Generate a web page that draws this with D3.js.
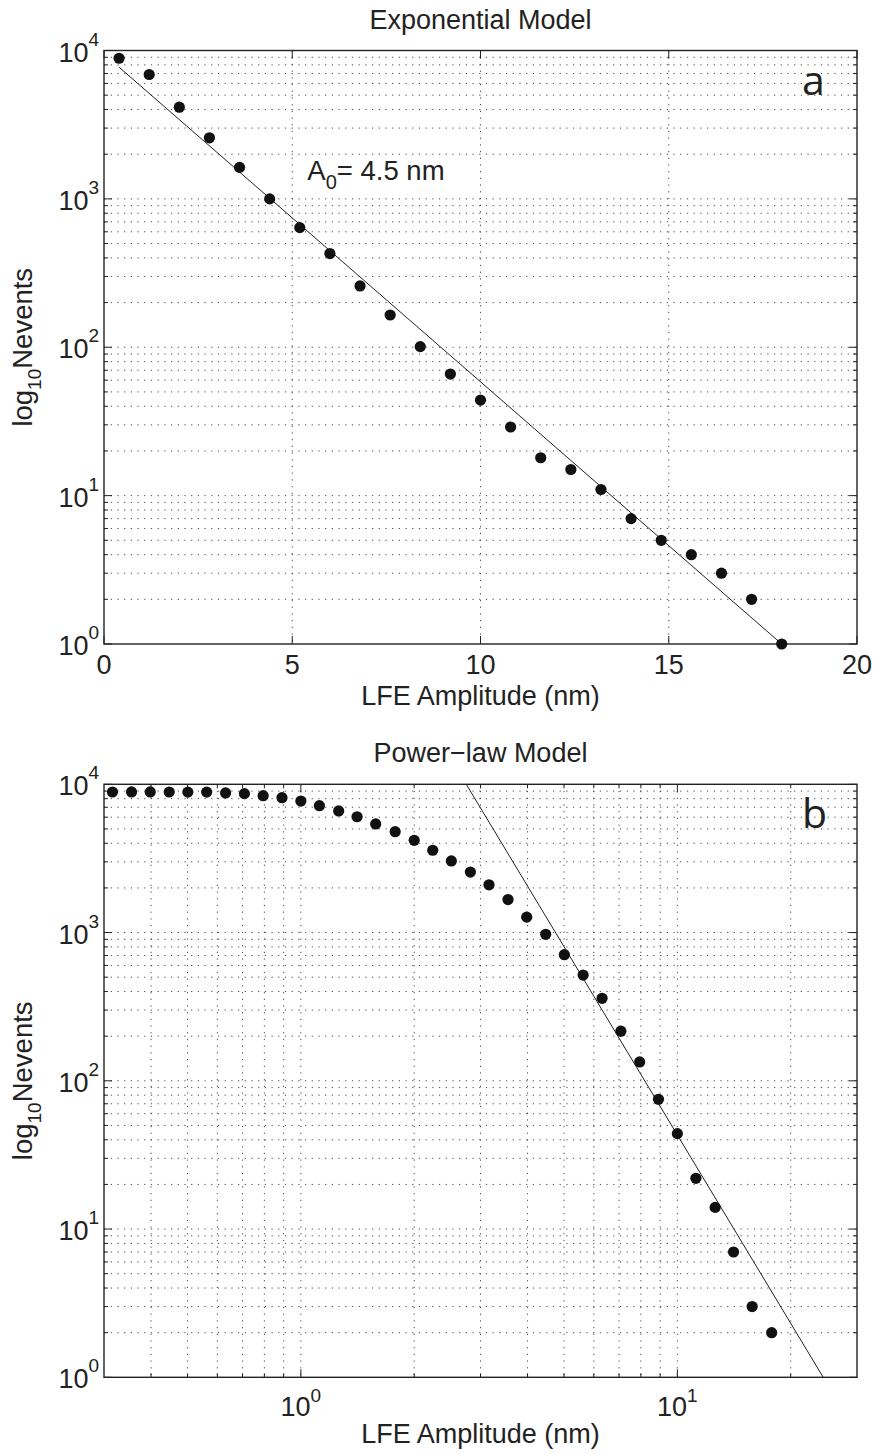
<!DOCTYPE html>
<html lang="en">
<head>
  <meta charset="utf-8">
  <title>LFE amplitude distributions</title>
  <script src="https://d3js.org/d3.v7.min.js"></script>
  <style>
    body { margin: 0; background: #fff; }
    text { font-family: "Liberation Sans", Arial, Helvetica, sans-serif; fill: #222; }
  </style>
</head>
<body>
<div id="chart"></div>
<script>
// ---- data ----
// panel a: exponential model (linear x)
var ampA   = [0.4, 1.2, 2.0, 2.8, 3.6, 4.4, 5.2, 6.0, 6.8, 7.6, 8.4, 9.2, 10.0, 10.8, 11.6, 12.4, 13.2, 14.0, 14.8, 15.6, 16.4, 17.2, 18.0];
var countA = [8870, 6890, 4150, 2580, 1630, 1000, 640, 428, 259, 165, 101, 66, 44, 29, 18, 15, 11, 7, 5, 4, 3, 2, 1];
var fitAmpA   = [0.4, 18.0];
var fitCountA = [7720, 1];

// panel b: power-law model (log x)
var ampB   = [0.316, 0.355, 0.398, 0.447, 0.501, 0.562, 0.631, 0.708, 0.794, 0.891,
              1.0, 1.12, 1.26, 1.41, 1.58, 1.78, 2.0, 2.24, 2.51, 2.82,
              3.16, 3.55, 3.98, 4.47, 5.01, 5.62, 6.31, 7.08, 7.94, 8.91,
              10.0, 11.2, 12.6, 14.1, 15.8, 17.8];
var countB = [8870, 8880, 8880, 8870, 8860, 8860, 8740, 8650, 8380, 8120,
              7710, 7170, 6610, 6040, 5400, 4790, 4190, 3590, 3040, 2560,
              2100, 1670, 1270, 973, 709, 517, 360, 216, 134, 75,
              44, 22, 14, 7, 3, 2];
var fitAmpB   = [2.75, 24.4];
var fitCountB = [10000, 1];

var xTicksA = [0, 5, 10, 15, 20];
var yExpTicks = [0, 1, 2, 3, 4];       // labelled as 10^n
var xExpTicksB = [0, 1];

var W = 874, H = 1454;
var left = 104, right = 857;

var svg = d3.select("#chart").append("svg")
  .attr("width", W).attr("height", H);

// draws a "10^n" label; anchor is the text-anchor of the whole label
function powLabel(g, x, y, n, anchor, supDy) {
  var t = g.append("text")
    .attr("x", x).attr("y", y)
    .attr("text-anchor", anchor)
    .style("font-size", "27px");
  t.append("tspan").text("10");
  t.append("tspan").attr("dy", supDy).style("font-size", "19px").text(n);
}

function panel(opt) {
  var g = svg.append("g");
  var x = opt.x, y = opt.y;
  var top = y.range()[1], bottom = y.range()[0];

  // clip for the fit line
  var clipId = "clip" + opt.id;
  svg.append("clipPath").attr("id", clipId)
    .append("rect").attr("x", left).attr("y", top)
    .attr("width", right - left).attr("height", bottom - top);

  // dotted grid
  var yt = y.ticks();
  g.selectAll("line.gy").data(yt.filter(function(d){ return d > 1 && d < 10000; }))
    .enter().append("line")
    .attr("x1", left).attr("x2", right)
    .attr("y1", function(d){ return y(d); }).attr("y2", function(d){ return y(d); })
    .attr("stroke", "#333").attr("stroke-width", 0.9)
    .attr("stroke-dasharray", "1.2,5.5");
  g.selectAll("line.gx").data(opt.xGrid)
    .enter().append("line")
    .attr("y1", top).attr("y2", bottom)
    .attr("x1", function(d){ return x(d); }).attr("x2", function(d){ return x(d); })
    .attr("stroke", "#333").attr("stroke-width", 0.9)
    .attr("stroke-dasharray", "1.2,5.5");

  // y ticks (inside, both sides)
  yt.forEach(function(d) {
    var major = Math.abs(Math.log10(d) - Math.round(Math.log10(d))) < 1e-9;
    var len = major ? 8 : 4;
    g.append("line").attr("x1", left).attr("x2", left + len)
      .attr("y1", y(d)).attr("y2", y(d)).attr("stroke", "#222").attr("stroke-width", 1);
    g.append("line").attr("x1", right).attr("x2", right - len)
      .attr("y1", y(d)).attr("y2", y(d)).attr("stroke", "#222").attr("stroke-width", 1);
  });
  // x ticks (inside, top and bottom)
  opt.xTickMarks.forEach(function(t) {
    var len = t.major ? 8 : 4;
    g.append("line").attr("x1", x(t.v)).attr("x2", x(t.v))
      .attr("y1", bottom).attr("y2", bottom - len).attr("stroke", "#222").attr("stroke-width", 1);
    g.append("line").attr("x1", x(t.v)).attr("x2", x(t.v))
      .attr("y1", top).attr("y2", top + len).attr("stroke", "#222").attr("stroke-width", 1);
  });

  // box
  g.append("rect").attr("x", left).attr("y", top)
    .attr("width", right - left).attr("height", bottom - top)
    .attr("fill", "none").attr("stroke", "#222").attr("stroke-width", 1.4);

  // fit line
  var fit = opt.fitX.map(function(v, i){ return [v, opt.fitY[i]]; });
  g.append("path")
    .attr("clip-path", "url(#" + clipId + ")")
    .attr("d", d3.line().x(function(d){ return x(d[0]); }).y(function(d){ return y(d[1]); })(fit))
    .attr("fill", "none").attr("stroke", "#222").attr("stroke-width", 1);

  // points
  g.selectAll("circle").data(opt.ptsX)
    .enter().append("circle")
    .attr("cx", function(d){ return x(d); })
    .attr("cy", function(d, i){ return y(opt.ptsY[i]); })
    .attr("r", 5.6).attr("fill", "#111");

  // y tick labels
  yExpTicks.forEach(function(n) {
    powLabel(g, 99, y(Math.pow(10, n)) + 11, n, "end", -16);
  });

  // title, axis labels, panel letter
  g.append("text").attr("x", (left + right) / 2).attr("y", top - 22)
    .attr("text-anchor", "middle").style("font-size", "27px").text(opt.title);
  g.append("text").attr("x", (left + right) / 2).attr("y", bottom + opt.xlabDy)
    .attr("text-anchor", "middle").style("font-size", "27px").text("LFE Amplitude (nm)");
  var yl = g.append("text")
    .attr("transform", "translate(32," + ((top + bottom) / 2) + ") rotate(-90)")
    .attr("text-anchor", "middle").style("font-size", "27.5px");
  yl.append("tspan").text("log");
  yl.append("tspan").attr("dy", 9).style("font-size", "19px").text("10");
  yl.append("tspan").attr("dy", -9).text("Nevents");

  g.append("text").attr("x", 802).attr("y", top + 44)
    .style("font-family", "'Open Sans', 'Noto Sans', sans-serif")
    .style("font-size", "41px").text(opt.letter);
  return g;
}

// ---- panel a ----
var xA = d3.scaleLinear().domain([0, 20]).range([left, right]);
var yA = d3.scaleLog().domain([1, 10000]).range([644, 50.5]);
var gA = panel({
  id: "a", x: xA, y: yA, title: "Exponential Model", letter: "a",
  xGrid: [5, 10, 15],
  xTickMarks: xTicksA.map(function(v){ return {v: v, major: true}; }),
  fitX: fitAmpA, fitY: fitCountA, ptsX: ampA, ptsY: countA, xlabDy: 61
});
xTicksA.forEach(function(v) {
  gA.append("text").attr("x", xA(v)).attr("y", 644 + 30)
    .attr("text-anchor", "middle").style("font-size", "27px").text(v);
});
var a0 = gA.append("text").attr("x", xA(5.4)).attr("y", yA(1350))
  .style("font-size", "27.5px");
a0.append("tspan").text("A");
a0.append("tspan").attr("dy", 9).style("font-size", "20px").text("0");
a0.append("tspan").attr("dy", -9).text("= 4.5 nm");

// ---- panel b ----
var xB = d3.scaleLog().domain([0.3, 30]).range([left, right]);
var yB = d3.scaleLog().domain([1, 10000]).range([1377.3, 784.3]);
var xtB = xB.ticks().filter(function(d){ return d > 0.3 && d < 30; });
var gB = panel({
  id: "b", x: xB, y: yB, title: "Power\u2212law Model", letter: "b",
  xGrid: xtB,
  xTickMarks: xtB.map(function(v){ return {v: v, major: (v === 1 || v === 10)}; }),
  fitX: fitAmpB, fitY: fitCountB, ptsX: ampB, ptsY: countB, xlabDy: 66
});
xExpTicksB.forEach(function(n) {
  powLabel(gB, xB(Math.pow(10, n)), 1377.3 + 39, n, "middle", -14);
});
</script>
</body>
</html>
